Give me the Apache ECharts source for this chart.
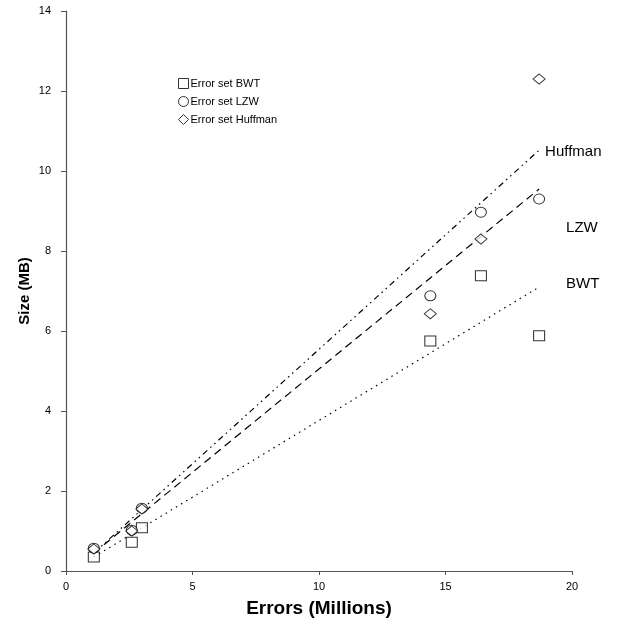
<!DOCTYPE html>
<html>
<head>
<meta charset="utf-8">
<script src="https://cdn.jsdelivr.net/npm/echarts@6/dist/echarts.min.js"></script>
<style>
  html, body { margin: 0; padding: 0; background: #fff; }
  #chart { width: 639px; height: 627px; }
</style>
</head>
<body>
<div id="chart"></div>
<script>
// Measured errors (millions) and resulting file sizes (MB)
const errors = [1.1, 2.6, 3.0, 14.4, 16.4, 18.7];
const sizeBWT = [0.35, 0.72, 1.08, 5.75, 7.38, 5.88];
const sizeLZW = [0.57, 1.02, 1.57, 6.88, 8.97, 9.30];
const sizeHuffman = [0.55, 1.00, 1.55, 6.43, 8.30, 12.30];

// Linear trend lines: start and end x with fitted y values
const trendX = [1.1, 18.7];
const trendBWT = [0.35, 7.10];
const trendLZW = [0.45, 9.55];
const trendHuffman = [0.45, 10.52];

const xTicks = [0, 5, 10, 15, 20];
const yTicks = [0, 2, 4, 6, 8, 10, 12, 14];

const font = 'Liberation Sans, Arial, sans-serif';

function pairs(xs, ys) { return xs.map((x, i) => [x, ys[i]]); }

const markerStyle = { color: '#fff', borderColor: '#000', borderWidth: 1 };

function scatter(name, ys, symbol, size) {
  return {
    name: name, type: 'scatter', data: pairs(errors, ys),
    symbol: symbol, symbolSize: size,
    itemStyle: markerStyle, z: 3
  };
}

function trend(name, ys, dash, offset) {
  return {
    name: name, type: 'line', data: pairs(trendX, ys),
    symbol: 'none', silent: true,
    lineStyle: { color: '#000', width: 1.2, type: dash },
    endLabel: {
      show: true, formatter: name, color: '#000',
      fontFamily: font, fontSize: 15, offset: offset, distance: 6
    },
    z: 2
  };
}

const chart = echarts.init(document.getElementById('chart'));
chart.setOption({
  animation: false,
  backgroundColor: '#fff',
  grid: { left: 66, right: 67, top: 11, bottom: 56, containLabel: false },
  legend: {
    orient: 'vertical', left: 173, top: 73, itemGap: 7,
    itemWidth: 10, itemHeight: 10,
    textStyle: { fontFamily: font, fontSize: 11, color: '#000', padding: [0, 0, 0, -3] },
    data: [
      { name: 'Error set BWT', icon: 'rect' },
      { name: 'Error set LZW', icon: 'circle' },
      { name: 'Error set Huffman', icon: 'diamond' }
    ],
    itemStyle: markerStyle
  },
  xAxis: {
    type: 'value', min: xTicks[0], max: xTicks[xTicks.length - 1], interval: 5,
    name: 'Errors (Millions)', nameLocation: 'middle', nameGap: 28,
    nameMoveOverlap: false,
    nameTextStyle: { fontFamily: font, fontSize: 19, fontWeight: 'bold', color: '#000' },
    axisLine: { show: true, lineStyle: { color: '#555', width: 1.2 } },
    axisTick: { show: true, length: 4, lineStyle: { color: '#555' } },
    axisLabel: { fontFamily: font, fontSize: 11, color: '#000', margin: 10 },
    splitLine: { show: false }
  },
  yAxis: {
    type: 'value', min: yTicks[0], max: yTicks[yTicks.length - 1], interval: 2,
    name: 'Size (MB)', nameLocation: 'middle', nameGap: 34, nameRotate: 90,
    nameMoveOverlap: false,
    nameTextStyle: { fontFamily: font, fontSize: 15, fontWeight: 'bold', color: '#000' },
    axisLine: { show: true, lineStyle: { color: '#555', width: 1.2 } },
    axisTick: { show: true, length: 5, lineStyle: { color: '#555' } },
    axisLabel: { fontFamily: font, fontSize: 11, color: '#000', margin: 15 },
    splitLine: { show: false }
  },
  series: [
    trend('Huffman', trendHuffman, [6, 4, 1.5, 4, 1.5, 4], [0, 2]),
    trend('LZW', trendLZW, [8, 5], [21, 39]),
    trend('BWT', trendBWT, [1.5, 4.5], [21, -3]),
    scatter('Error set BWT', sizeBWT, 'rect', [11, 10]),
    scatter('Error set LZW', sizeLZW, 'circle', [11, 10]),
    scatter('Error set Huffman', sizeHuffman, 'diamond', [12, 10])
  ]
});
</script>
</body>
</html>
